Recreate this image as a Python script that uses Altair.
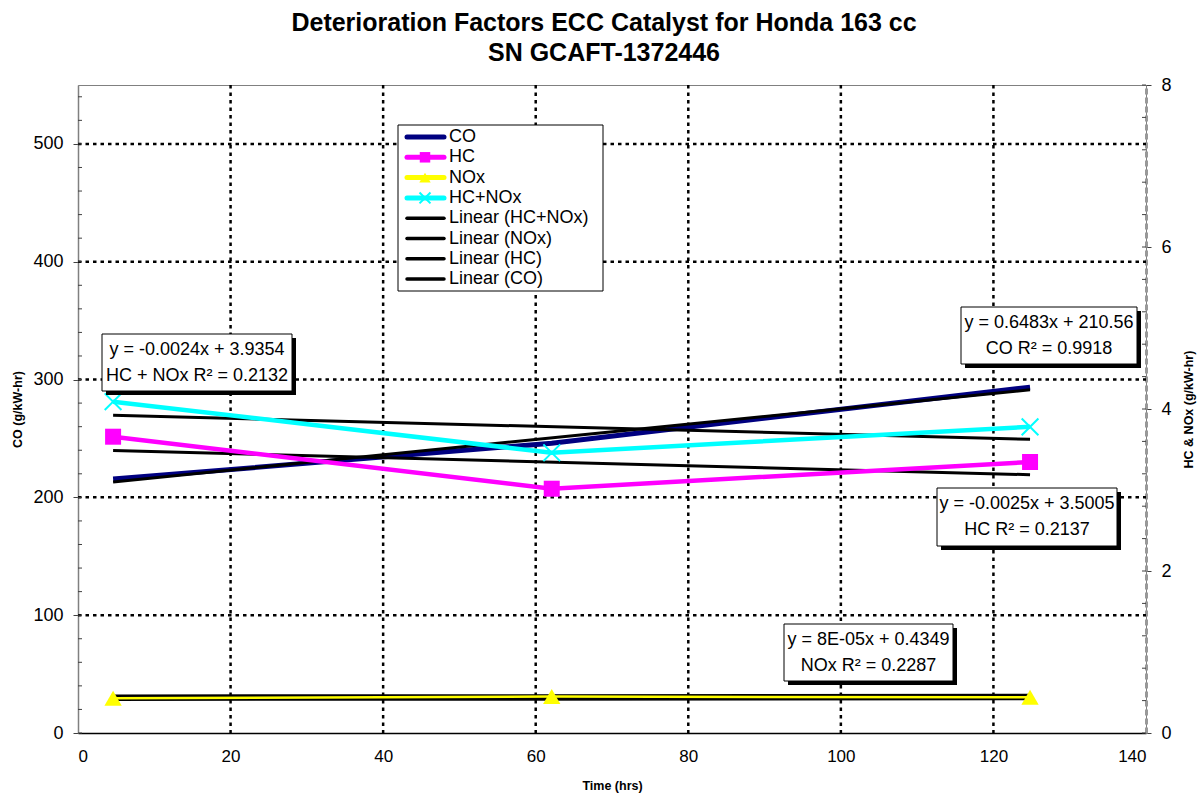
import altair as alt
import pandas as pd

FONT = "Liberation Sans"

# ---------------- data ----------------
hours = [4.6, 62.1, 124.8]
co_values = [215.5, 246.0, 293.5]
hc_values = [3.658, 3.016, 3.346]
nox_values = [0.43, 0.45, 0.44]
hcnox_values = [4.09, 3.46, 3.78]

series_names = ["HC", "NOx", "HC+NOx"]
series_colors = ["#FF00FF", "#FFFF00", "#00FFFF"]
series_widths = [4.5, 2.5, 4.5]
trend_widths = [3, 6.5, 3]
co_color = "#000080"

x_ticks = [0, 20, 40, 60, 80, 100, 120, 140]
left_ticks = [0, 100, 200, 300, 400, 500]
right_ticks = [0, 2, 4, 6, 8]
grid_x = [20, 40, 60, 80, 100, 120]
grid_y = [100, 200, 300, 400, 500]
left_minor = [0, 20, 40, 60, 80, 100, 120, 140, 160, 180, 200, 220, 240, 260, 280,
              300, 320, 340, 360, 380, 400, 420, 440, 460, 480, 500, 520, 540]
right_minor = [0, 0.4, 0.8, 1.2, 1.6, 2, 2.4, 2.8, 3.2, 3.6, 4, 4.4, 4.8, 5.2, 5.6,
               6, 6.4, 6.8, 7.2, 7.6, 8]

legend_labels = ["CO", "HC", "NOx", "HC+NOx", "Linear (HC+NOx)", "Linear (NOx)",
                 "Linear (HC)", "Linear (CO)"]
legend_colors = [co_color, "#FF00FF", "#FFFF00", "#00FFFF", "#000000", "#000000",
                 "#000000", "#000000"]
legend_widths = [5, 5, 5, 5, 3.5, 3.5, 3.5, 3.5]

annotation_line1 = ["y = -0.0024x + 3.9354", "y = 0.6483x + 210.56",
                    "y = -0.0025x + 3.5005", "y = 8E-05x + 0.4349"]
annotation_line2 = ["HC + NOx R² = 0.2132", "CO R² = 0.9918",
                    "HC R² = 0.2137", "NOx R² = 0.2287"]
# box positions (pixels inside plot area)
box_x1 = [24, 883, 859, 706]
box_x2 = [214, 1059, 1039, 875]
box_y1 = [249, 222, 403, 539]
box_y2 = [306, 279, 461, 596]

W, H = 1068, 648
PAD_L, PAD_T = 78, 85

# ---------------- tables ----------------
df_co = pd.DataFrame({"x": hours, "co": co_values})
df_r = pd.DataFrame({
    "series": ["HC"] * 3 + ["NOx"] * 3 + ["HC+NOx"] * 3,
    "x": hours * 3,
    "v": hc_values + nox_values + hcnox_values,
    "w": [series_widths[0]] * 3 + [series_widths[1]] * 3 + [series_widths[2]] * 3,
})
df_tw = pd.DataFrame({"series": series_names, "tw": trend_widths})
df_gx = pd.DataFrame({"x": grid_x})
df_gy = pd.DataFrame({"co": grid_y})
df_lm = pd.DataFrame({"co": left_minor})
df_rm = pd.DataFrame({"v": right_minor})
df_leg = pd.DataFrame({"label": legend_labels, "color": legend_colors,
                       "w": legend_widths, "i": list(range(len(legend_labels)))})
df_box = pd.DataFrame({"x1": box_x1, "x2": box_x2, "y1": box_y1, "y2": box_y2})
ann_rows = []
for k in range(4):
    cx = (box_x1[k] + box_x2[k]) / 2
    ann_rows.append({"t": annotation_line1[k], "cx": cx, "cy": box_y1[k] + 16})
    ann_rows.append({"t": annotation_line2[k], "cx": cx, "cy": box_y1[k] + 42})
df_ann = pd.DataFrame(ann_rows)
one = pd.DataFrame({"a": [0]})

# ---------------- encodings ----------------
x_axis = alt.Axis(values=x_ticks, format="d", labelFontSize=17, labelPadding=15,
                  ticks=False, grid=False, domainColor="black", domainWidth=1.5,
                  title="Time (hrs)", titleFontSize=12.5, titleFontWeight="bold",
                  titlePadding=15)
x_scale = alt.Scale(domain=[0, 140], nice=False, zero=False)


def xenc(field="x"):
    return alt.X(f"{field}:Q", scale=x_scale, axis=x_axis)


left_axis = alt.Axis(values=left_ticks, format="d", labelFontSize=18, labelPadding=10,
                     tickSize=5, tickColor="#404040", grid=False,
                     domainColor="#808080", domainWidth=1.5,
                     title="CO (g/kW-hr)", titleFontSize=12.5, titleFontWeight="bold",
                     titlePadding=8)
left_scale = alt.Scale(domain=[0, 550], nice=False, zero=False)
y_left = alt.Y("co:Q", scale=left_scale, axis=left_axis)

right_axis = alt.Axis(orient="right", values=right_ticks, format="d", labelFontSize=18,
                      labelPadding=10, tickSize=5, tickColor="#404040", grid=False,
                      domainColor="#999999", domainWidth=3, domainDash=[6, 3],
                      title="HC & NOx (g/kW-hr)", titleFontSize=12.5,
                      titleFontWeight="bold", titlePadding=11, titleAngle=270,
                      titleBaseline="top")
right_scale = alt.Scale(domain=[0, 8], nice=False, zero=False)
y_right = alt.Y("v:Q", scale=right_scale, axis=right_axis)


def px(field):
    return alt.X(f"{field}:Q", scale=None, axis=None)


def py(field):
    return alt.Y(f"{field}:Q", scale=None, axis=None)


# ---------------- left group (CO axis) ----------------
grid_v = alt.Chart(df_gx).mark_rule(color="black", strokeWidth=2.5, strokeDash=[3.5, 4]).encode(
    x=xenc(), y=alt.value(0), y2=alt.value(H))
grid_h = alt.Chart(df_gy).mark_rule(color="black", strokeWidth=2.5, strokeDash=[3.5, 4]).encode(
    y=y_left, x=alt.value(0), x2=alt.value(W))
minor_l = alt.Chart(df_lm).mark_rule(color="#404040", strokeWidth=1).encode(
    y=y_left, x=alt.value(0), x2=alt.value(4))
co_line = alt.Chart(df_co).mark_line(color=co_color, strokeWidth=5).encode(x=xenc(), y=y_left)
co_trend = alt.Chart(df_co).transform_regression("x", "co").mark_line(
    color="black", strokeWidth=3).encode(x=xenc(), y=y_left)

left_group = alt.layer(grid_v, grid_h, minor_l, co_line, co_trend)

# ---------------- right group (HC & NOx axis) ----------------
color_scale = alt.Scale(domain=series_names, range=series_colors)
r_trend = alt.Chart(df_r).transform_regression("x", "v", groupby=["series"]).transform_lookup(
    lookup="series", from_=alt.LookupData(df_tw, "series", ["tw"])).mark_line(
    color="black").encode(x=xenc(), y=y_right, detail="series:N",
                          strokeWidth=alt.StrokeWidth("tw:Q", scale=None))
r_lines = alt.Chart(df_r).mark_line().encode(
    x=xenc(), y=y_right, color=alt.Color("series:N", scale=color_scale, legend=None),
    strokeWidth=alt.StrokeWidth("w:Q", scale=None))
XPATH = "M-1,-1L1,1M-1,1L1,-1"
hc_pts = alt.Chart(df_r).transform_filter(alt.datum.series == "HC").mark_point(
    shape="square", filled=True, size=256, color="#FF00FF", opacity=1).encode(x=xenc(), y=y_right)
nox_pts = alt.Chart(df_r).transform_filter(alt.datum.series == "NOx").mark_point(
    shape="triangle-up", filled=True, size=300, color="#FFFF00", opacity=1).encode(x=xenc(), y=y_right)
hcnox_pts = alt.Chart(df_r).transform_filter(alt.datum.series == "HC+NOx").mark_point(
    shape=XPATH, filled=False, size=280, color="#00FFFF", strokeWidth=2, opacity=1).encode(
    x=xenc(), y=y_right)
minor_r = alt.Chart(df_rm).mark_rule(color="#404040", strokeWidth=1).encode(
    y=y_right, x=alt.value(W - 4), x2=alt.value(W))

# legend (drawn inside the plot)
leg_box = alt.Chart(one).mark_rect(fill="white", stroke="black", strokeWidth=1).encode(
    x=alt.value(320), x2=alt.value(525), y=alt.value(40), y2=alt.value(206))
leg_base = alt.Chart(df_leg).transform_calculate(ly="52 + datum.i * 20.3")
leg_lines = leg_base.mark_rule(strokeCap="round").encode(
    x=alt.value(329), x2=alt.value(366), y=py("ly"),
    color=alt.Color("color:N", scale=None), strokeWidth=alt.StrokeWidth("w:Q", scale=None))
leg_text = leg_base.mark_text(align="left", baseline="middle", fontSize=18, font=FONT,
                              color="black").encode(x=alt.value(371), y=py("ly"), text="label:N")
leg_sq = leg_base.transform_filter(alt.datum.label == "HC").mark_point(
    shape="square", filled=True, size=110, color="#FF00FF", opacity=1).encode(
    x=alt.value(347), y=py("ly"))
leg_tri = leg_base.transform_filter(alt.datum.label == "NOx").mark_point(
    shape="triangle-up", filled=True, size=130, color="#FFFF00", opacity=1).encode(
    x=alt.value(347), y=py("ly"))
leg_x = leg_base.transform_filter(alt.datum.label == "HC+NOx").mark_point(
    shape=XPATH, filled=False, size=120, color="#00FFFF", strokeWidth=2, opacity=1).encode(
    x=alt.value(347), y=py("ly"))

# equation boxes
box_base = alt.Chart(df_box).transform_calculate(
    sx1="datum.x1 + 4", sx2="datum.x2 + 4", sy1="datum.y1 + 4", sy2="datum.y2 + 4")
box_shadow = box_base.mark_rect(fill="black").encode(
    x=px("sx1"), x2="sx2:Q", y=py("sy1"), y2="sy2:Q")
box_rect = alt.Chart(df_box).mark_rect(fill="white", stroke="black", strokeWidth=1).encode(
    x=px("x1"), x2="x2:Q", y=py("y1"), y2="y2:Q")
box_text = alt.Chart(df_ann).mark_text(align="center", baseline="middle", fontSize=18,
                                       font=FONT, color="black").encode(
    x=px("cx"), y=py("cy"), text="t:N")

right_group = alt.layer(r_trend, r_lines, hc_pts, nox_pts, hcnox_pts, minor_r,
                        leg_box, leg_lines, leg_sq, leg_tri, leg_x, leg_text,
                        box_shadow, box_rect, box_text)

chart = alt.layer(left_group, right_group).resolve_scale(y="independent").properties(
    width=W, height=H,
    padding={"left": PAD_L, "top": PAD_T, "right": 1198 - PAD_L - W, "bottom": 797 - PAD_T - H},
    autosize=alt.AutoSizeParams(type="none"),
    background="white",
    title=alt.TitleParams(
        text=["Deterioration Factors ECC Catalyst for Honda 163 cc", "SN GCAFT-1372446"],
        fontSize=25, font=FONT, fontWeight="bold", anchor="middle", color="black",
        lineHeight=30, offset=10, dx=-8),
).configure_view(stroke="#808080", strokeWidth=1).configure_axis(
    labelFont=FONT, titleFont=FONT, labelColor="black", titleColor="black")

chart.save("out.html", embed_options={"renderer": "svg", "actions": False})
